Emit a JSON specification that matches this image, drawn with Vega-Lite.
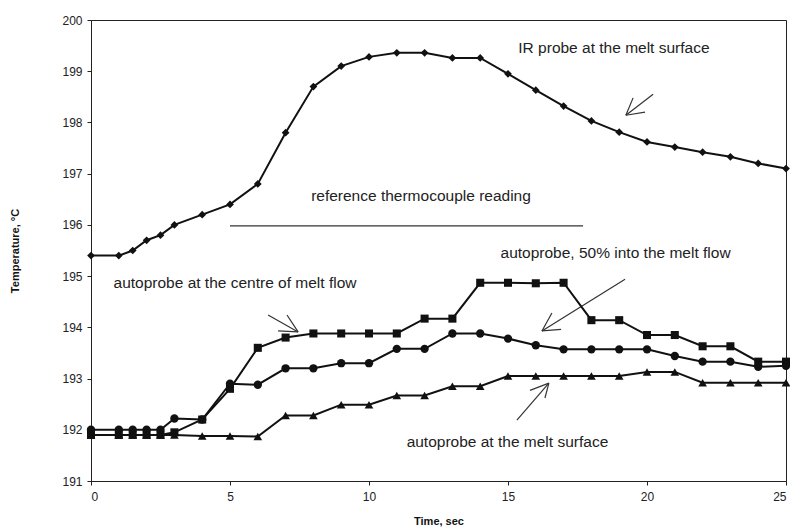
{
  "$schema": "https://vega.github.io/schema/vega-lite/v6.json",
  "width": 695,
  "height": 461,
  "autosize": {"type": "none"},
  "padding": {"left": 91, "top": 20, "right": 4, "bottom": 47},
  "background": "white",
  "config": {
    "view": {"stroke": "#222", "strokeWidth": 1},
    "font": "Liberation Sans",
    "axis": {"grid": false, "domainColor": "#222", "tickColor": "#222", "labelColor": "#222", "labelFont": "Liberation Sans", "labelFontSize": 12, "titleFont": "Liberation Sans", "titleFontSize": 11, "titleFontWeight": "bold", "titleColor": "#111", "tickSize": 4}
  },
  "datasets": {
    "series": [
      {"series": "IR probe", "t": 0, "temp": 195.4},
      {"series": "IR probe", "t": 1, "temp": 195.4},
      {"series": "IR probe", "t": 1.5, "temp": 195.5},
      {"series": "IR probe", "t": 2, "temp": 195.7},
      {"series": "IR probe", "t": 2.5, "temp": 195.8},
      {"series": "IR probe", "t": 3, "temp": 196.0},
      {"series": "IR probe", "t": 4, "temp": 196.2},
      {"series": "IR probe", "t": 5, "temp": 196.4},
      {"series": "IR probe", "t": 6, "temp": 196.8},
      {"series": "IR probe", "t": 7, "temp": 197.8},
      {"series": "IR probe", "t": 8, "temp": 198.7},
      {"series": "IR probe", "t": 9, "temp": 199.1},
      {"series": "IR probe", "t": 10, "temp": 199.28},
      {"series": "IR probe", "t": 11, "temp": 199.36},
      {"series": "IR probe", "t": 12, "temp": 199.36},
      {"series": "IR probe", "t": 13, "temp": 199.26},
      {"series": "IR probe", "t": 14, "temp": 199.26},
      {"series": "IR probe", "t": 15, "temp": 198.95},
      {"series": "IR probe", "t": 16, "temp": 198.63},
      {"series": "IR probe", "t": 17, "temp": 198.32},
      {"series": "IR probe", "t": 18, "temp": 198.03},
      {"series": "IR probe", "t": 19, "temp": 197.81},
      {"series": "IR probe", "t": 20, "temp": 197.62},
      {"series": "IR probe", "t": 21, "temp": 197.52},
      {"series": "IR probe", "t": 22, "temp": 197.42},
      {"series": "IR probe", "t": 23, "temp": 197.33},
      {"series": "IR probe", "t": 24, "temp": 197.2},
      {"series": "IR probe", "t": 25, "temp": 197.1},

      {"series": "centre", "t": 0, "temp": 191.9},
      {"series": "centre", "t": 1, "temp": 191.9},
      {"series": "centre", "t": 1.5, "temp": 191.9},
      {"series": "centre", "t": 2, "temp": 191.9},
      {"series": "centre", "t": 2.5, "temp": 191.9},
      {"series": "centre", "t": 3, "temp": 191.95},
      {"series": "centre", "t": 4, "temp": 192.2},
      {"series": "centre", "t": 5, "temp": 192.8},
      {"series": "centre", "t": 6, "temp": 193.6},
      {"series": "centre", "t": 7, "temp": 193.8},
      {"series": "centre", "t": 8, "temp": 193.88},
      {"series": "centre", "t": 9, "temp": 193.88},
      {"series": "centre", "t": 10, "temp": 193.88},
      {"series": "centre", "t": 11, "temp": 193.88},
      {"series": "centre", "t": 12, "temp": 194.17},
      {"series": "centre", "t": 13, "temp": 194.17},
      {"series": "centre", "t": 14, "temp": 194.87},
      {"series": "centre", "t": 15, "temp": 194.87},
      {"series": "centre", "t": 16, "temp": 194.86},
      {"series": "centre", "t": 17, "temp": 194.87},
      {"series": "centre", "t": 18, "temp": 194.14},
      {"series": "centre", "t": 19, "temp": 194.14},
      {"series": "centre", "t": 20, "temp": 193.85},
      {"series": "centre", "t": 21, "temp": 193.85},
      {"series": "centre", "t": 22, "temp": 193.63},
      {"series": "centre", "t": 23, "temp": 193.63},
      {"series": "centre", "t": 24, "temp": 193.33},
      {"series": "centre", "t": 25, "temp": 193.33},

      {"series": "50%", "t": 0, "temp": 192.0},
      {"series": "50%", "t": 1, "temp": 192.0},
      {"series": "50%", "t": 1.5, "temp": 192.0},
      {"series": "50%", "t": 2, "temp": 192.0},
      {"series": "50%", "t": 2.5, "temp": 192.0},
      {"series": "50%", "t": 3, "temp": 192.22},
      {"series": "50%", "t": 4, "temp": 192.2},
      {"series": "50%", "t": 5, "temp": 192.9},
      {"series": "50%", "t": 6, "temp": 192.88},
      {"series": "50%", "t": 7, "temp": 193.2},
      {"series": "50%", "t": 8, "temp": 193.2},
      {"series": "50%", "t": 9, "temp": 193.3},
      {"series": "50%", "t": 10, "temp": 193.3},
      {"series": "50%", "t": 11, "temp": 193.58},
      {"series": "50%", "t": 12, "temp": 193.58},
      {"series": "50%", "t": 13, "temp": 193.88},
      {"series": "50%", "t": 14, "temp": 193.88},
      {"series": "50%", "t": 15, "temp": 193.78},
      {"series": "50%", "t": 16, "temp": 193.65},
      {"series": "50%", "t": 17, "temp": 193.57},
      {"series": "50%", "t": 18, "temp": 193.57},
      {"series": "50%", "t": 19, "temp": 193.57},
      {"series": "50%", "t": 20, "temp": 193.57},
      {"series": "50%", "t": 21, "temp": 193.44},
      {"series": "50%", "t": 22, "temp": 193.33},
      {"series": "50%", "t": 23, "temp": 193.33},
      {"series": "50%", "t": 24, "temp": 193.23},
      {"series": "50%", "t": 25, "temp": 193.25},

      {"series": "surface", "t": 0, "temp": 191.9},
      {"series": "surface", "t": 1, "temp": 191.9},
      {"series": "surface", "t": 1.5, "temp": 191.9},
      {"series": "surface", "t": 2, "temp": 191.9},
      {"series": "surface", "t": 2.5, "temp": 191.9},
      {"series": "surface", "t": 3, "temp": 191.9},
      {"series": "surface", "t": 4, "temp": 191.88},
      {"series": "surface", "t": 5, "temp": 191.88},
      {"series": "surface", "t": 6, "temp": 191.87},
      {"series": "surface", "t": 7, "temp": 192.28},
      {"series": "surface", "t": 8, "temp": 192.28},
      {"series": "surface", "t": 9, "temp": 192.49},
      {"series": "surface", "t": 10, "temp": 192.49},
      {"series": "surface", "t": 11, "temp": 192.67},
      {"series": "surface", "t": 12, "temp": 192.67},
      {"series": "surface", "t": 13, "temp": 192.85},
      {"series": "surface", "t": 14, "temp": 192.85},
      {"series": "surface", "t": 15, "temp": 193.05},
      {"series": "surface", "t": 16, "temp": 193.05},
      {"series": "surface", "t": 17, "temp": 193.05},
      {"series": "surface", "t": 18, "temp": 193.05},
      {"series": "surface", "t": 19, "temp": 193.05},
      {"series": "surface", "t": 20, "temp": 193.13},
      {"series": "surface", "t": 21, "temp": 193.13},
      {"series": "surface", "t": 22, "temp": 192.92},
      {"series": "surface", "t": 23, "temp": 192.92},
      {"series": "surface", "t": 24, "temp": 192.92},
      {"series": "surface", "t": 25, "temp": 192.92}
    ],
    "labels": [
      {"text": "IR probe at the melt surface", "t": 18.81, "temp": 199.45},
      {"text": "reference thermocouple reading", "t": 11.87, "temp": 196.56},
      {"text": "autoprobe, 50% into the melt flow", "t": 18.87, "temp": 195.45},
      {"text": "autoprobe at the centre of melt flow", "t": 5.18, "temp": 194.86},
      {"text": "autoprobe at the melt surface", "t": 14.98, "temp": 191.76}
    ],
    "segments": [
      {"x1": 5, "y1": 195.98, "x2": 17.7, "y2": 195.98},
      {"x1": 20.22, "y1": 198.55, "x2": 19.24, "y2": 198.14},
      {"x1": 19.5, "y1": 198.48, "x2": 19.24, "y2": 198.14},
      {"x1": 19.93, "y1": 198.2, "x2": 19.24, "y2": 198.14},
      {"x1": 19.21, "y1": 194.94, "x2": 16.22, "y2": 193.93},
      {"x1": 16.58, "y1": 194.28, "x2": 16.22, "y2": 193.93},
      {"x1": 16.91, "y1": 193.96, "x2": 16.22, "y2": 193.93},
      {"x1": 15.32, "y1": 192.19, "x2": 16.47, "y2": 192.91},
      {"x1": 15.79, "y1": 192.77, "x2": 16.47, "y2": 192.91},
      {"x1": 16.33, "y1": 192.62, "x2": 16.47, "y2": 192.91},
      {"x1": 6.37, "y1": 194.24, "x2": 7.45, "y2": 193.91},
      {"x1": 7.05, "y1": 194.24, "x2": 7.45, "y2": 193.91},
      {"x1": 6.73, "y1": 193.93, "x2": 7.45, "y2": 193.91}
    ]
  },
  "layer": [
    {
      "data": {"name": "segments"},
      "mark": {"type": "rule", "color": "#333", "strokeWidth": 1.2},
      "encoding": {
        "x": {"field": "x1", "type": "quantitative"},
        "y": {"field": "y1", "type": "quantitative"},
        "x2": {"field": "x2"},
        "y2": {"field": "y2"}
      }
    },
    {
      "data": {"name": "series"},
      "mark": {"type": "line", "color": "#111", "strokeWidth": 2},
      "encoding": {
        "x": {"field": "t", "type": "quantitative", "scale": {"domain": [0, 25], "nice": false}, "axis": {"values": [0, 5, 10, 15, 20, 25], "title": "Time, sec", "titleY": 34, "labelPadding": 6}},
        "y": {"field": "temp", "type": "quantitative", "scale": {"domain": [191, 200], "nice": false, "zero": false}, "axis": {"values": [191, 192, 193, 194, 195, 196, 197, 198, 199, 200], "title": "Temperature, °C", "titleX": -71, "labelPadding": 5}},
        "detail": {"field": "series"}
      }
    },
    {
      "data": {"name": "series"},
      "mark": {"type": "point", "filled": true, "opacity": 1, "color": "#111"},
      "encoding": {
        "x": {"field": "t", "type": "quantitative"},
        "y": {"field": "temp", "type": "quantitative"},
        "shape": {"field": "series", "type": "nominal", "scale": {"domain": ["IR probe", "centre", "50%", "surface"], "range": ["diamond", "square", "circle", "triangle-up"]}, "legend": null},
        "size": {"field": "series", "type": "nominal", "scale": {"domain": ["IR probe", "centre", "50%", "surface"], "range": [60, 75, 75, 60]}, "legend": null}
      }
    },
    {
      "data": {"name": "labels"},
      "mark": {"type": "text", "font": "Liberation Sans", "fontSize": 15.5, "color": "#222", "align": "center", "baseline": "middle"},
      "encoding": {
        "x": {"field": "t", "type": "quantitative"},
        "y": {"field": "temp", "type": "quantitative"},
        "text": {"field": "text"}
      }
    }
  ]
}
